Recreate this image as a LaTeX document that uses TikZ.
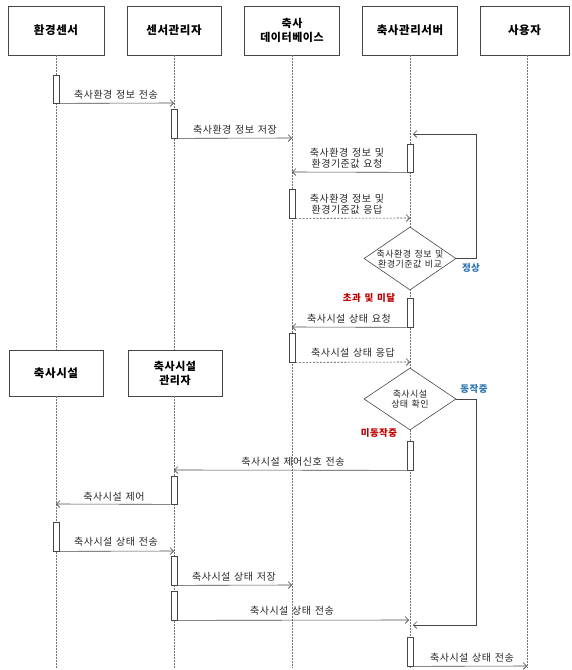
\documentclass[tikz,border=0pt]{standalone}
\usepackage{fontspec}
\setmainfont{Noto Sans CJK KR}[LetterSpace=5,WordSpace=1.4]
\usetikzlibrary{arrows.meta,shapes.geometric}
\definecolor{lnc}{RGB}{70,70,70}
\definecolor{redt}{RGB}{192,0,0}
\definecolor{bluet}{RGB}{46,117,182}
\tikzset{
  hdr/.style={draw=lnc, line width=0.8pt, fill=white, minimum height=49pt, align=center, inner sep=0pt,
    font=\bfseries\fontsize{11.5}{15}\selectfont},
  life/.style={draw=black!55, line width=0.4pt, dash pattern=on 1.5pt off 1.5pt},
  act/.style={draw=lnc, fill=white, line width=0.7pt, minimum width=6pt, inner sep=0pt},
  msg/.style={draw=lnc, line width=0.6pt, -{Straight Barb[length=3.5pt,width=7pt]}},
  reply/.style={msg, dash pattern=on 2pt off 1.5pt},
  lbl/.style={font=\fontsize{10}{11}\selectfont, align=center, text=black!85, inner sep=0pt},
  dec/.style={diamond, draw=lnc, fill=white, line width=0.6pt, inner sep=0pt},
  cond/.style={font=\bfseries\fontsize{9.5}{11}\selectfont, inner sep=0pt}
}
\begin{document}
\begin{tikzpicture}[x=1pt,y=-1pt]
\useasboundingbox (0,0) rectangle (571,670);
% header boxes
\node[hdr, minimum width=96pt] (h1) at (56,30.5) {환경센서};
\node[hdr, minimum width=94pt] (h2) at (174,30.5) {센서관리자};
\node[hdr, minimum width=95pt, font=\bfseries\fontsize{11}{14}\selectfont] (h3) at (292,30.5) {축사\\데이터베이스};
\node[hdr, minimum width=95pt] (h4) at (410,30.5) {축사관리서버};
\node[hdr, minimum width=89pt] (h5) at (524.5,30.5) {사용자};
\node[hdr, minimum width=94pt, minimum height=46pt] (h6) at (56,373) {축사시설};
\node[hdr, minimum width=94pt, minimum height=46pt, font=\bfseries\fontsize{11}{14}\selectfont] (h7) at (175,373) {축사시설\\관리자};
% lifeline ends
\coordinate (b1) at (56,668);
\coordinate (b2) at (174,668);
\coordinate (b3) at (292,668);
\coordinate (b4) at (410,668);
\coordinate (b5) at (527,668);
\coordinate (t5) at (527,55);
\draw[life] (h1.south) -- (h6.north);
\draw[life] (h6.south) -- (b1);
\draw[life] (h2.south) -- (h7.north -| h2.south);
\draw[life] (h7.south -| b2) -- (b2);
\draw[life] (h3.south) -- (b3);
\draw[life] (h4.south) -- (b4);
\draw[life] (t5) -- (b5);
% activations
\node[act, minimum height=28pt] (a1) at (56,89) {};
\node[act, minimum height=29pt] (a2) at (174,123.5) {};
\node[act, minimum height=28pt] (a3) at (410,158) {};
\node[act, minimum height=29pt] (a4) at (292,203.5) {};
\node[act, minimum height=29pt] (a5) at (410,312.5) {};
\node[act, minimum height=29pt] (a6) at (292,347.5) {};
\node[act, minimum height=29pt] (a7) at (410,455.5) {};
\node[act, minimum height=28pt] (a8) at (174,490) {};
\node[act, minimum height=29pt] (a9) at (56,536.5) {};
\node[act, minimum height=29pt] (a10) at (174,570.5) {};
\node[act, minimum height=29pt] (a11) at (174,605.5) {};
\node[act, minimum height=29pt] (a12) at (410,651.5) {};
% decisions
\node[dec, minimum width=92pt, minimum height=63pt] (d1) at (410,258.5) {};
\node[dec, minimum width=92pt, minimum height=62pt] (d2) at (410,399) {};
\node[lbl, font=\fontsize{9}{10}\selectfont] (d1t) at (410,259.5) {축사환경 정보 및\\환경기준값 비교};
\node[lbl, font=\fontsize{9}{10}\selectfont] (d2t) at (410,399.5) {축사시설\\상태 확인};
% message end points
\coordinate (e1) at (174,103);
\coordinate (e2) at (292,138);
\coordinate (e3) at (292,172);
\coordinate (e4) at (410,218);
\coordinate (e5) at (292,327);
\coordinate (e6) at (410,362);
\coordinate (e7) at (174,470);
\coordinate (e8) at (56,504);
\coordinate (e9) at (174,551);
\coordinate (e10) at (292,585);
\coordinate (e11) at (409,620);
\coordinate (e12) at (527,666);
\coordinate (r1) at (476,134);
\coordinate (t1) at (413,134);
\coordinate (r2) at (476,625);
\coordinate (t2) at (413,625);
% messages
\draw[msg] (a1.south east) -- (e1);
\draw[msg] (a2.south east) -- (e2);
\draw[msg] (a3.south west) -- (e3);
\draw[reply] (a4.south east) -- (e4);
\draw[msg] (d1.east) -| (r1) -- (t1);
\draw[msg] (a5.south west) -- (e5);
\draw[reply] (a6.south east) -- (e6);
\draw[msg] (d2.east) -| (r2) -- (t2);
\draw[msg] (a7.south west) -- (e7);
\draw[msg] (a8.south west) -- (e8);
\draw[msg] (a9.south east) -- (e9);
\draw[msg] (a10.south east) -- (e10);
\draw[msg] (a11.south east) -- (e11);
\draw[msg] (a12.south east) -- (e12);
% labels
\node[lbl] (l1) at (116,95) {축사환경 정보 전송};
\node[lbl] (l2) at (235,129.5) {축사환경 정보 저장};
\node[lbl, font=\fontsize{10}{10.5}\selectfont] (l3) at (347,158) {축사환경 정보 및\\환경기준값 요청};
\node[lbl, font=\fontsize{10}{10.5}\selectfont] (l4) at (347,204) {축사환경 정보 및\\환경기준값 응답};
\node[lbl] (l5) at (349,319) {축사시설 상태 요청};
\node[lbl] (l6) at (353,352.5) {축사시설 상태 응답};
\node[lbl] (l7) at (293,462) {축사시설 제어신호 전송};
\node[lbl] (l8) at (114,496.5) {축사시설 제어};
\node[lbl] (l9) at (116,542) {축사시설 상태 전송};
\node[lbl] (l10) at (234,577) {축사시설 상태 저장};
\node[lbl] (l11) at (292,611) {축사시설 상태 전송};
\node[lbl] (l12) at (472,657.5) {축사시설 상태 전송};
% conditions
\node[cond, text=redt] (c1) at (369,298) {초과 및 미달};
\node[cond, text=bluet] (c2) at (471,268) {정상};
\node[cond, text=bluet] (c3) at (474,389) {동작중};
\node[cond, text=redt] (c4) at (379,433) {미동작중};
\end{tikzpicture}
\end{document}
